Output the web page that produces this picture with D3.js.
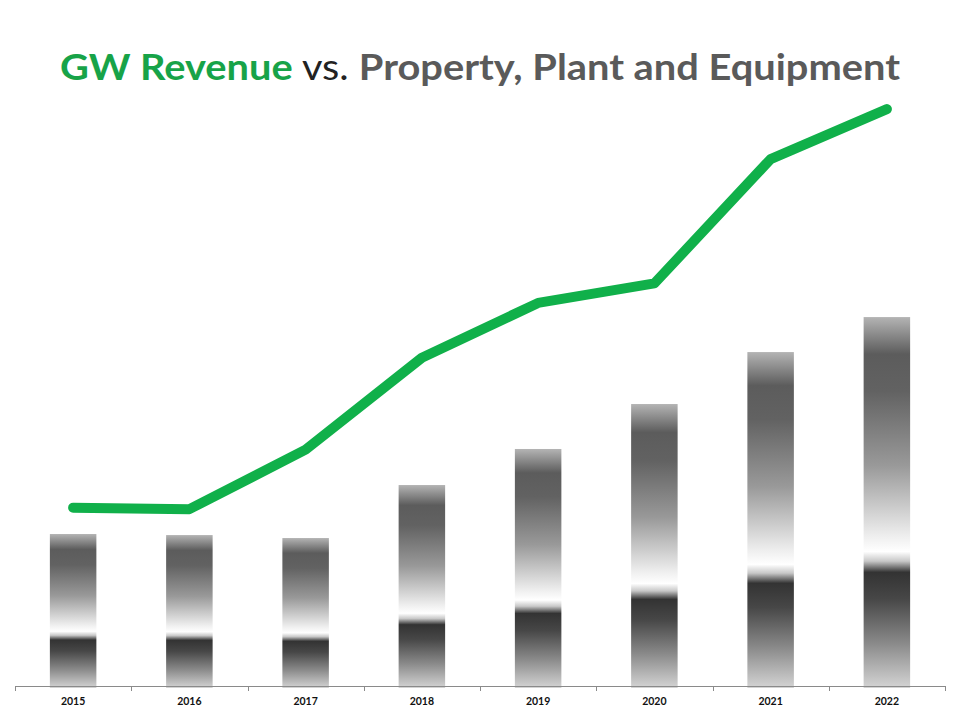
<!DOCTYPE html>
<html>
<head>
<meta charset="utf-8">
<script src="https://cdn.jsdelivr.net/npm/d3@7"></script>
<style>
  html, body { margin: 0; padding: 0; background: #fff; }
  svg { display: block; }
</style>
</head>
<body>
<svg id="chart" width="960" height="720"></svg>
<script>
const years = ["2015", "2016", "2017", "2018", "2019", "2020", "2021", "2022"];
const revenue = [119.1, 118.1, 158.1, 219.8, 256.6, 269.7, 353.2, 386.8];
const ppe = [101.4, 100.7, 98.7, 134.3, 158.5, 188.7, 223.6, 247.1];

const svg = d3.select("#chart");
const baseline = 686;
const left = 15, right = 945;

const x = d3.scaleBand().domain(years).range([left, right]).padding(0);
const y = d3.scaleLinear().domain([0, 400]).range([baseline - 1, baseline - 1 - 400 * 1.489]);

// gradient
const defs = svg.append("defs");
const grad = defs.append("linearGradient")
  .attr("id", "barGrad").attr("x1", 0).attr("y1", 0).attr("x2", 0).attr("y2", 1);
[
  [0, "#b4b4b4"], [0.1, "#5c5c5c"], [0.2, "#626262"], [0.4, "#999999"],
  [0.59, "#eeeeee"], [0.632, "#ffffff"], [0.658, "#c8c8c8"], [0.688, "#333333"],
  [0.76, "#474747"], [0.88, "#8a8a8a"], [1, "#d4d4d4"]
].forEach(([o, c]) => grad.append("stop").attr("offset", o).attr("stop-color", c));

const barW = x.bandwidth() * 0.4;
svg.append("g").selectAll("rect").data(years).join("rect")
  .attr("x", d => x(d) + x.bandwidth() / 2 - barW / 2)
  .attr("width", barW)
  .attr("y", (d, i) => y(ppe[i]))
  .attr("height", (d, i) => baseline + 2 - y(ppe[i]))
  .attr("fill", "url(#barGrad)");

// axis
const axis = d3.axisBottom(x).tickSize(0).tickPadding(12);
const ax = svg.append("g").attr("transform", `translate(0,${baseline})`).call(axis);
ax.select(".domain").attr("stroke", "#8a8a8a").attr("stroke-width", 1.2);
ax.selectAll("text").attr("font-family", "Lato, 'Open Sans', sans-serif")
  .attr("font-weight", "bold").attr("font-size", 10.5).attr("fill", "#111");
// boundary ticks
const bounds = years.map(d => x(d)).concat([x(years[years.length - 1]) + x.bandwidth()]);
ax.selectAll(".bt").data(bounds).join("line")
  .attr("x1", d => Math.round(d) + 0.5).attr("x2", d => Math.round(d) + 0.5)
  .attr("y1", 0).attr("y2", 5).attr("stroke", "#8a8a8a");

// line
const line = d3.line()
  .x((d, i) => x(years[i]) + x.bandwidth() / 2)
  .y(d => y(d));
svg.append("path").datum(revenue)
  .attr("d", line)
  .attr("fill", "none")
  .attr("stroke", "#10b04a")
  .attr("stroke-width", 10)
  .attr("stroke-linecap", "round")
  .attr("stroke-linejoin", "round");

// title
const t = svg.append("text")
  .attr("x", 60).attr("y", 80)
  .attr("font-family", "Lato, 'Open Sans', sans-serif")
  .attr("font-size", 36)
  .attr("textLength", 840)
  .attr("lengthAdjust", "spacingAndGlyphs");
t.append("tspan").text("GW Revenue").attr("font-weight", "bold").attr("fill", "#17a348");
t.append("tspan").text(" vs. ").attr("fill", "#222");
t.append("tspan").text("Property, Plant and Equipment").attr("font-weight", "bold").attr("fill", "#5a5a5a");
</script>
</body>
</html>
